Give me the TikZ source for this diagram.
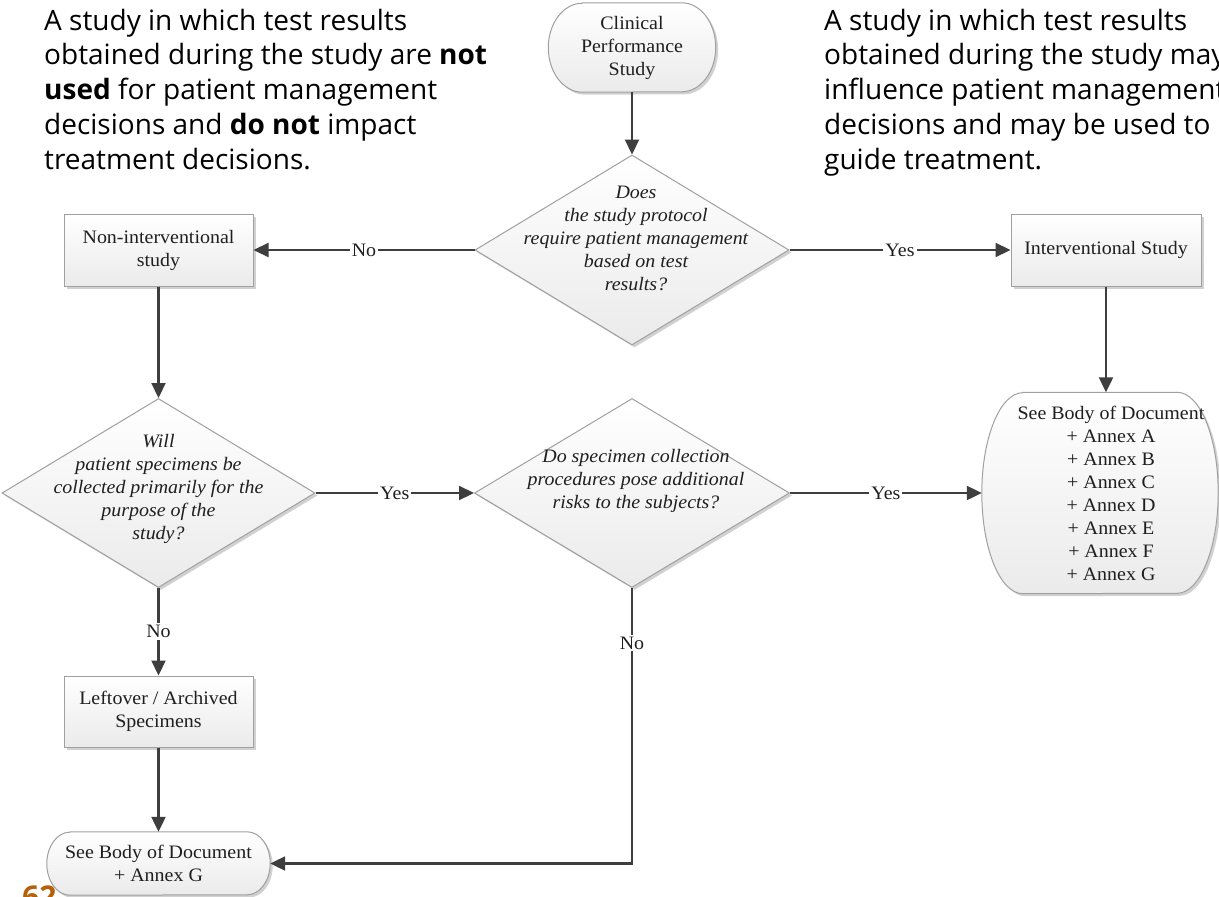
\documentclass[tikz,border=0pt]{standalone}
\usepackage{fontspec}
\setmainfont{Liberation Serif}[FakeStretch=1.05]
\newfontfamily\notefont{Open Sans}
\usetikzlibrary{shapes.geometric,arrows.meta,shadows,calc,backgrounds}

\definecolor{inkgray}{RGB}{62,62,62}
\definecolor{framegray}{RGB}{160,160,160}
\definecolor{pagebrown}{RGB}{181,96,10}

\newcommand\chartfont{\fontsize{19}{23}\selectfont}
% outline of a terminator: flat top and bottom, elliptic left and right ends
\newcommand\terminalframe[3]{%
  \path[frame] ($(#1.north west)+(#2,0)$) -- ($(#1.north east)+(-#2,0)$)
    arc[start angle=90, end angle=-90, x radius=#2pt, y radius=#3pt]
    -- ($(#1.south west)+(#2,0)$)
    arc[start angle=270, end angle=90, x radius=#2pt, y radius=#3pt] -- cycle;}

\begin{document}
\begin{tikzpicture}[x=1pt, y=-1pt,
  frame/.style={draw=framegray, line width=1pt, top color=white, bottom color=black!8,
    drop shadow={shadow xshift=2.5pt, shadow yshift=-2.5pt, opacity=0.18, fill=black}},
  procbox/.style={rectangle, frame, align=center, font=\chartfont, text=black!88, inner sep=0pt},
  decision/.style={diamond, frame, inner sep=0pt},
  question/.style={align=center, font=\chartfont\itshape, text=black!88, inner sep=0pt},
  terminal/.style={rectangle, align=center, font=\chartfont, text=black!88, inner sep=0pt},
  flow/.style={draw=inkgray, line width=2.2pt, -{Triangle[length=15pt, width=14pt]}},
  answer/.style={fill=white, inner sep=2pt, font=\chartfont, text=black!88},
  note/.style={align=left, font=\notefont\fontsize{28}{34.8}\selectfont, text=black,
    inner sep=0pt, anchor=north west},
]
\useasboundingbox (0,0) rectangle (1219,897);
\clip (0,0) rectangle (1219,897);

% explanatory notes
\node[note] (leftnote) at (44,8.7) {A study in which test results\\
  obtained during the study are \textbf{not}\\
  \textbf{used} for patient management\\
  decisions and \textbf{do not} impact\\
  treatment decisions.};
\node[note] (rightnote) at (824,8.7) {A study in which test results\\
  obtained during the study may\\
  influence patient management\\
  decisions and may be used to\\
  guide treatment.};

% start
\node[terminal, minimum width=167pt, minimum height=89pt] (clin) at (632,47.5)
  {Clinical\\Performance\\Study};

% first decision
\node[decision, minimum width=314pt, minimum height=190pt] (d1) at (632,250) {};
\node[question] (d1t) at (636,238.5)
  {Does\\the study protocol\\require patient management\\based on test\\results?};

\node[procbox, minimum width=189pt, minimum height=72pt] (nonint) at (158.5,250)
  {Non-interventional\\study};
\node[procbox, minimum width=190pt, minimum height=72pt] (interv) at (1106,250)
  {Interventional Study};

% second row
\node[decision, minimum width=313pt, minimum height=189pt] (d2) at (158.5,493) {};
\node[question] (d2t) at (158.5,489)
  {Will\\patient specimens be\\collected primarily for the\\purpose of the\\study?};

\node[decision, minimum width=315pt, minimum height=189pt] (d3) at (632,493) {};
\node[question] (d3t) at (636,480.5)
  {Do specimen collection\\procedures pose additional\\risks to the subjects?};

\node[terminal, minimum width=236pt, minimum height=201pt] (annex) at (1100,493) {};
\node[terminal] (annext) at (1111,493)
  {See Body of Document\\+ Annex A\\+ Annex B\\+ Annex C\\+ Annex D\\+ Annex E\\+ Annex F\\+ Annex G};

% lower left
\node[procbox, minimum width=189pt, minimum height=71pt] (leftover) at (158.5,711.5)
  {Leftover / Archived\\Specimens};
\node[terminal, minimum width=223pt, minimum height=63pt] (endn) at (158.5,863.5)
  {See Body of Document\\+ Annex G};

% page ground and terminator outlines beneath the text
\begin{scope}[on background layer]
  \fill[white] (0,0) rectangle (1219,897);
  \terminalframe{clin}{34}{44.5}
  \terminalframe{annex}{41}{100.5}
  \terminalframe{endn}{23}{31.5}
\end{scope}

% connectors
\draw[flow] (clin.south) -- (d1.north);
\draw[flow] (d1.west) -- node[answer] {No} (nonint.east);
\draw[flow] (d1.east) -- node[answer] {Yes} (interv.west);
\draw[flow] (nonint.south) -- (d2.north);
\draw[flow] (interv.south) -- (interv.south |- annex.north);
\draw[flow] (d2.east) -- node[answer] {Yes} (d3.west);
\draw[flow] (d3.east) -- node[answer] {Yes} (annex.west);
\draw[flow] (d2.south) -- node[answer] {No} (leftover.north);
\draw[flow] (leftover.south) -- (endn.north);
\draw[flow] (d3.south) |- node[answer, pos=0.1] {No} (endn.east);

% page number
\node[font=\notefont\bfseries\fontsize{30}{30}\selectfont, text=pagebrown,
  anchor=north west, inner sep=0pt] (pageno) at (22,886) {62};
\end{tikzpicture}
\end{document}
